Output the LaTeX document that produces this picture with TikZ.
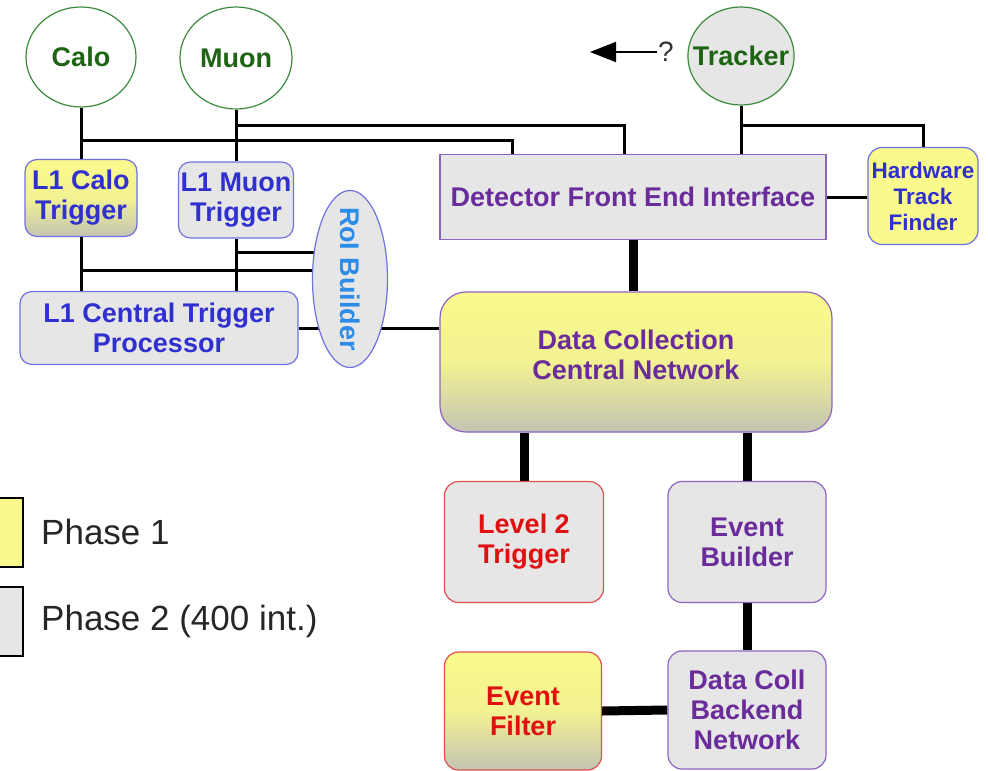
\documentclass[tikz,border=0pt]{standalone}
\usepackage{fontspec}
\setmainfont{Liberation Sans}
\usetikzlibrary{shapes.geometric,arrows.meta,backgrounds,calc}
\definecolor{grn}{HTML}{1E6414}
\definecolor{grnb}{HTML}{3C8A3C}
\definecolor{bluet}{HTML}{3030D0}
\definecolor{blueb}{HTML}{7070E0}
\definecolor{roit}{HTML}{2C8CE6}
\definecolor{purt}{HTML}{6A2C9A}
\definecolor{purb}{HTML}{8C64C0}
\definecolor{redt}{HTML}{E01010}
\definecolor{redb}{HTML}{E05050}
\definecolor{boxgray}{HTML}{E6E6E6}
\definecolor{yel}{HTML}{FAFA8C}
\definecolor{yelgray}{HTML}{C4C4B4}
\begin{document}
\begin{tikzpicture}[x=1pt,y=-1pt,
  lbl/.style={font=\fontsize{27}{30}\selectfont\bfseries, align=center, inner sep=0pt},
  det/.style={lbl, ellipse, draw=grnb, line width=1.2pt, fill=white, text=grn},
  l1box/.style={lbl, rectangle, rounded corners=12pt, draw=blueb, line width=1.2pt, fill=boxgray, text=bluet},
  yelshade/.style={top color=yel, bottom color=yelgray, middle color=yel!85!yelgray},
  purbox/.style={lbl, rectangle, rounded corners=14pt, draw=purb, line width=1.2pt, fill=boxgray, text=purt},
  redbox/.style={lbl, rectangle, rounded corners=14pt, draw=redb, line width=1.2pt, fill=boxgray, text=redt},
  conn/.style={line width=3pt, black},
  thickconn/.style={line width=9pt, black},
  legbox/.style={rectangle, draw=black, line width=1.2pt, minimum width=43pt, minimum height=69pt, inner sep=0pt},
  legtxt/.style={font=\fontsize{35}{40}\selectfont, anchor=west, inner sep=0pt, text=black!85}
]
\useasboundingbox (0,0) rectangle (988,771);
\clip (0,0) rectangle (988,771);

% detectors
\node[det, minimum width=110pt, minimum height=100pt] (calo) at (81,57) {Calo};
\node[det, minimum width=112pt, minimum height=102pt] (muon) at (236,58) {Muon};
\node[det, fill=boxgray, inner xsep=-10.5pt, minimum width=106pt, minimum height=98pt] (tracker) at (741,56) {Tracker};

% question arrow
\node[font=\fontsize{28}{32}\selectfont, inner sep=1pt, text=black!80] (qm) at (666,52) {?};
\coordinate (tip) at (590,52);
\draw[line width=2pt, -{Triangle[length=26pt,width=20pt]}] (qm.west) -- (tip);

% L1 level
\node[l1box, yelshade, minimum width=112pt, minimum height=77pt] (l1calo) at (81,198) {L1 Calo\\Trigger};
\node[l1box, minimum width=115pt, minimum height=76pt] (l1muon) at (236,200) {L1 Muon\\Trigger};
\node[lbl, ellipse, draw=blueb, line width=1.2pt, fill=boxgray, text=roit, rotate=-90, inner xsep=-13pt, minimum width=177pt, minimum height=75pt] (roi) at (350,279) {RoI Builder};
\node[l1box, minimum width=278pt, minimum height=73pt] (ctp) at (159,328) {L1 Central Trigger\\Processor};

% front end
\node[lbl, rectangle, draw=purb, line width=1.2pt, fill=boxgray, text=purt, minimum width=386pt, minimum height=85pt] (dfei) at (633,197) {Detector Front End Interface};
\node[lbl, font=\fontsize{22.5}{26}\selectfont\bfseries, rectangle, rounded corners=14pt, draw=blueb, line width=1.2pt, fill=yel, text=bluet, minimum width=110pt, minimum height=97pt] (htf) at (923,196) {Hardware\\Track\\Finder};

% data collection
\node[purbox, yelshade, rounded corners=26pt, minimum width=392pt, minimum height=140pt] (dccn) at (636,362) {Data Collection\\Central Network\\[-16pt]};
\node[redbox, minimum width=159pt, minimum height=121pt] (l2) at (524,542) {Level 2\\Trigger};
\node[purbox, minimum width=158pt, minimum height=121pt] (eb) at (747,542) {Event\\Builder};
\node[redbox, yelshade, minimum width=157pt, minimum height=118pt] (ef) at (523,711) {Event\\Filter};
\node[purbox, minimum width=158pt, minimum height=118pt] (dcbn) at (747,710) {Data Coll\\Backend\\Network};

% legend
\node[legbox, fill=yel] (lgy) at (1.5,532.5) {};
\node[legbox, fill=boxgray] (lgg) at (1.5,621.5) {};
\node[legtxt] (ph1) at (41,532) {Phase 1};
\node[legtxt] (ph2) at (41,621) {Phase 2 (400 int.)};

% connectors
\begin{scope}[on background layer]
\draw[conn] (calo.south) -- (l1calo.north);
\draw[conn] (muon.south) -- (l1muon.north);
\coordinate (j1) at (81,140);
\coordinate (j2) at (236,125);
\draw[conn] (j1) -| ($(dfei.north west)+(73,0)$);
\draw[conn] (j2) -| ($(dfei.north west)+(185,0)$);
\draw[conn] (tracker.south) -- (tracker.south |- dfei.north);
\coordinate (j3) at (741,125);
\draw[conn] (j3) -| (htf.north);
\draw[conn] (dfei.east) -- (dfei.east -| htf.west);
\draw[thickconn] (dfei.south) -- (dfei.south |- dccn.north);
\draw[conn] (l1calo.south) -- (l1calo.south |- ctp.north);
\draw[conn] (l1muon.south) -- (l1muon.south |- ctp.north);
\coordinate (j4) at (81,270);
\coordinate (j5) at (236,252);
\draw[conn] (j4) -- (roi.center |- j4);
\draw[conn] (j5) -- (roi.center |- j5);
\draw[conn] (ctp.east) -- (ctp.east -| dccn.west);
\draw[thickconn] (dccn.south -| l2.north) -- (l2.north);
\draw[thickconn] (dccn.south -| eb.north) -- (eb.north);
\draw[thickconn] (eb.south) -- (dcbn.north);
\draw[thickconn] (ef.east) -- (dcbn.west);
\end{scope}
\end{tikzpicture}
\end{document}
